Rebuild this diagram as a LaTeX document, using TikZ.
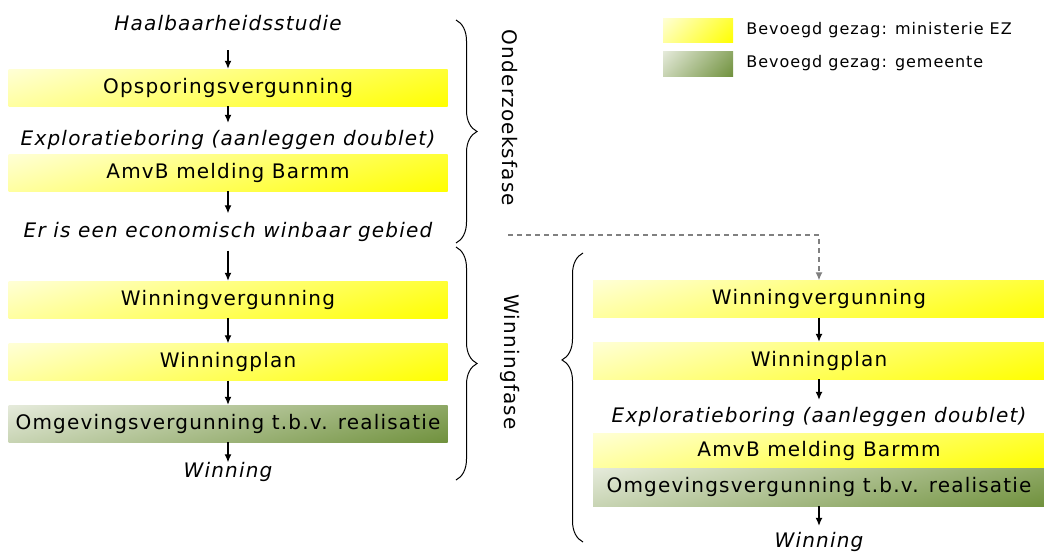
\documentclass[tikz,border=0pt]{standalone}
\usepackage{fontspec}
\setmainfont{DejaVu Sans}[LetterSpace=6]
\usetikzlibrary{positioning,shapes,arrows.meta,decorations.pathreplacing}

% diagonal fills: pale top left, full colour bottom right
% (the path covers the middle half of the shading square)
\pgfdeclarefunctionalshading{ezdiag}{\pgfpoint{-50bp}{-50bp}}{\pgfpoint{50bp}{50bp}}{}{
    exch 25 add 0.75 mul exch 25 exch sub 0.25 mul add 50 div
    -0.84 mul 0.84 add 1 1 3 -1 roll
}
\pgfdeclarefunctionalshading{gemdiag}{\pgfpoint{-50bp}{-50bp}}{\pgfpoint{50bp}{50bp}}{}{
    exch 25 add 0.75 mul exch 25 exch sub 0.25 mul add 50 div
    dup dup -0.46 mul 0.90 add 3 1 roll
    -0.35 mul 0.92 add exch -0.62 mul 0.86 add
}

\tikzset{
    mainfont/.style={font=\fontsize{20}{24}\selectfont},
    ezbox/.style={mainfont, shade, shading=ezdiag, minimum width=439pt, minimum height=37pt,
        inner sep=0pt, text height=15pt, text depth=4pt},
    gembox/.style={ezbox, shading=gemdiag},
    wide/.style={minimum width=452pt},
    txt/.style={font=\fontsize{20}{24}\selectfont\itshape, inner sep=0pt,
        text height=15pt, text depth=4pt},
    phase/.style={mainfont, rotate=-90, inner sep=0pt},
    legtext/.style={font=\fontsize{16}{19}\selectfont, inner sep=0pt, anchor=west},
    arr/.style={-{Latex[length=8pt,width=7pt]}, line width=1.2pt},
    dasharr/.style={-{Latex[length=8pt,width=7pt]}, line width=1.2pt, gray,
        dash pattern=on 5pt off 4pt},
    bracket/.style={decorate, line width=1pt, decoration={brace, amplitude=21pt}}
}

\begin{document}
\begin{tikzpicture}[x=1pt, y=1pt]
    \useasboundingbox (0,0) rectangle (1044,-552);

    % legend
    \node[ezbox, minimum width=70pt, minimum height=24pt] (ezkey) at (698,-30) {};
    \node[gembox, minimum width=70pt, minimum height=25pt] (gemkey) at (698,-63.5) {};
    \node[legtext, right=13pt of ezkey] (eztext) {Bevoegd gezag: ministerie EZ};
    \node[legtext, right=13pt of gemkey] (gemtext) {Bevoegd gezag: gemeente};

    % left column
    \node[txt, minimum height=50pt] (haal) at (228,-25) {Haalbaarheidsstudie};
    \node[ezbox] (opspor) at (228,-87.5) {Opsporingsvergunning};
    \node[txt, minimum height=34pt] (explo) at (228,-140) {Exploratieboring (aanleggen doublet)};
    \node[ezbox] (amvb) at (228,-172.5) {AmvB melding Barmm};
    \node[txt, minimum height=37pt] (econ) at (228,-232) {Er is een economisch winbaar gebied};
    \node[ezbox] (winver) at (228,-299.5) {Winningvergunning};
    \node[ezbox] (winplan) at (228,-362) {Winningplan};
    \node[gembox] (omg) at (228,-423.5) {Omgevingsvergunning t.b.v. realisatie};
    \node[txt, minimum height=18pt] (winning) at (228,-472) {Winning};

    \draw[arr] (haal) -- (opspor);
    \draw[arr] (opspor) -- (explo);
    \draw[arr] (amvb) -- (econ);
    \draw[arr] (econ) -- (winver);
    \draw[arr] (winver) -- (winplan);
    \draw[arr] (winplan) -- (omg);
    \draw[arr] (omg) -- (winning);

    % phases
    \draw[bracket] (456,-20) -- (456,-243);
    \draw[bracket] (456,-247) -- (456,-480);
    \node[phase] (onderzoek) at (510,-118) {Onderzoeksfase};
    \node[phase] (winfase) at (510,-362) {Winningfase};

    % right column
    \node[ezbox, wide] (winver2) at (819,-299) {Winningvergunning};
    \node[ezbox, wide] (winplan2) at (819,-360.5) {Winningplan};
    \node[txt, minimum height=34pt] (explo2) at (819,-417) {Exploratieboring (aanleggen doublet)};
    \node[ezbox, wide, minimum height=35pt] (amvb2) at (819,-450.5) {AmvB melding Barmm};
    \node[gembox, wide, minimum height=38pt] (omg2) at (819,-487) {Omgevingsvergunning t.b.v. realisatie};
    \node[txt, minimum height=32pt] (winning2) at (819,-542) {Winning};

    \draw[arr] (winver2) -- (winplan2);
    \draw[arr] (winplan2) -- (explo2);
    \draw[arr] (omg2) -- (winning2);

    \coordinate (dashstart) at (508,-235);
    \draw[dasharr] (dashstart) -| (winver2.north);
    \draw[bracket, decoration={aspect=0.63}] (583,-542) -- (583,-253);
\end{tikzpicture}
\end{document}
